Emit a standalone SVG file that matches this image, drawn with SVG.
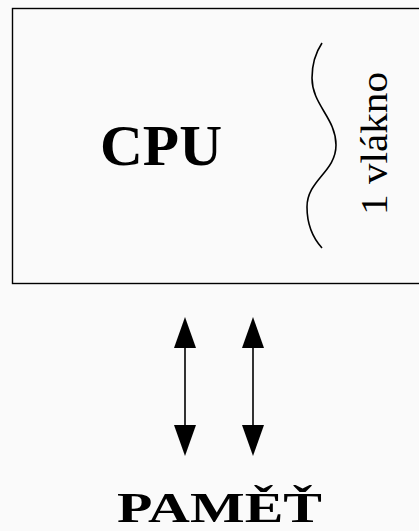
<svg xmlns="http://www.w3.org/2000/svg" width="419" height="531" viewBox="0 0 419 531">
<defs>
<style>
.edge{stroke:#000;stroke-width:1.6;fill:none}
.head{fill:#000}
.bold{font-family:"Liberation Serif","DejaVu Serif",serif;font-weight:bold;fill:#000}
.reg{font-family:"Liberation Serif","DejaVu Serif",serif;fill:#000}
</style>
</defs>
<rect x="0" y="0" width="419" height="531" fill="#fafafa"/>
<g id="cpu">
<rect x="12.5" y="8.5" width="420" height="275" fill="none" stroke="#000" stroke-width="1.4"/>
<text class="bold" x="100" y="165" font-size="56" textLength="122" lengthAdjust="spacingAndGlyphs">CPU</text>
</g>
<g id="thread">
<path class="edge" d="M322,43 C316,52 312,65 312,78 C312,105 336,118 336,145 C336,172 307,180 307,207 C307,225 313,238 322,248" stroke-width="1.3"/>
<text class="reg" transform="translate(387,215) rotate(-90)" x="0" y="0" font-size="37" textLength="143" lengthAdjust="spacingAndGlyphs">1 vlákno</text>
</g>
<g id="memory">
<text class="bold" x="117" y="522" font-size="41.5" textLength="205" lengthAdjust="spacingAndGlyphs">PAMĚŤ</text>
</g>
<g id="connectors">
<line class="edge" x1="185" y1="345" x2="185" y2="428"/>
<polygon class="head" points="185,317 196,348 174,348"/>
<polygon class="head" points="185,456 196,425 174,425"/>
<line class="edge" x1="253" y1="345" x2="253" y2="428"/>
<polygon class="head" points="253,317 264,348 242,348"/>
<polygon class="head" points="253,456 264,425 242,425"/>
</g>
</svg>
